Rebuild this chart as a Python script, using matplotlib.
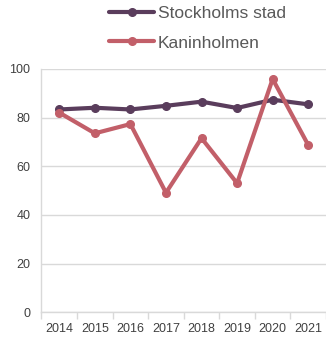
import matplotlib
matplotlib.use("Agg")
import matplotlib.pyplot as plt
import numpy as np

plt.rcParams['font.family'] = ['Liberation Sans', 'DejaVu Sans']

years = ["2014", "2015", "2016", "2017", "2018", "2019", "2020", "2021"]
stockholm = [83.3, 84.0, 83.3, 84.8, 86.5, 83.9, 87.3, 85.4]
kaninholmen = [82.0, 73.5, 77.3, 49.1, 71.5, 53.0, 95.8, 68.7]
series_names = ["Stockholms stad", "Kaninholmen"]
yticks = [0, 20, 40, 60, 80, 100]

purple = "#5a3d5c"
rose = "#c25f69"
grid = "#d9d9d9"
text_col = "#404040"

W, H = 326, 337
fig = plt.figure(figsize=(W / 100, H / 100), dpi=100)
ax = fig.add_axes([41.5 / W, 1 - 312.3 / H, (326 - 41.5) / W, (312.3 - 68.8) / H])

x = np.arange(len(years))
ax.plot(x, stockholm, color=purple, lw=3.0, marker="o", ms=5.5,
        solid_capstyle="round", label=series_names[0], zorder=3)
ax.plot(x, kaninholmen, color=rose, lw=3.0, marker="o", ms=5.5,
        solid_capstyle="round", label=series_names[1], zorder=3)

ax.set_xlim(-0.5, len(years) - 0.5)
ax.set_ylim(0, 100)
ax.set_yticks(yticks)
ax.set_yticklabels([str(v) for v in yticks])
ax.set_xticks(x)
ax.set_xticklabels(years)
ax.set_xticks(np.arange(-0.5, len(years)), minor=True)

ax.tick_params(axis="x", which="major", length=0, pad=8, labelsize=9, labelcolor=text_col)
ax.tick_params(axis="x", which="minor", length=5, width=1, color=grid)
ax.tick_params(axis="y", length=0, pad=8, labelsize=9, labelcolor=text_col)

ax.grid(axis="y", color=grid, lw=1)
ax.set_axisbelow(True)
for s in ["top", "right"]:
    ax.spines[s].set_visible(False)
for s in ["left", "bottom"]:
    ax.spines[s].set_color(grid)
    ax.spines[s].set_linewidth(1)

fig.legend(loc="upper left", bbox_to_anchor=(109 / W, 1 - 6 / H), frameon=False,
           fontsize=12.5, labelcolor="#595959", handlelength=2.6, handletextpad=0.2,
           borderpad=0, borderaxespad=0, labelspacing=0.82)

fig.savefig("out.png", dpi=100)
